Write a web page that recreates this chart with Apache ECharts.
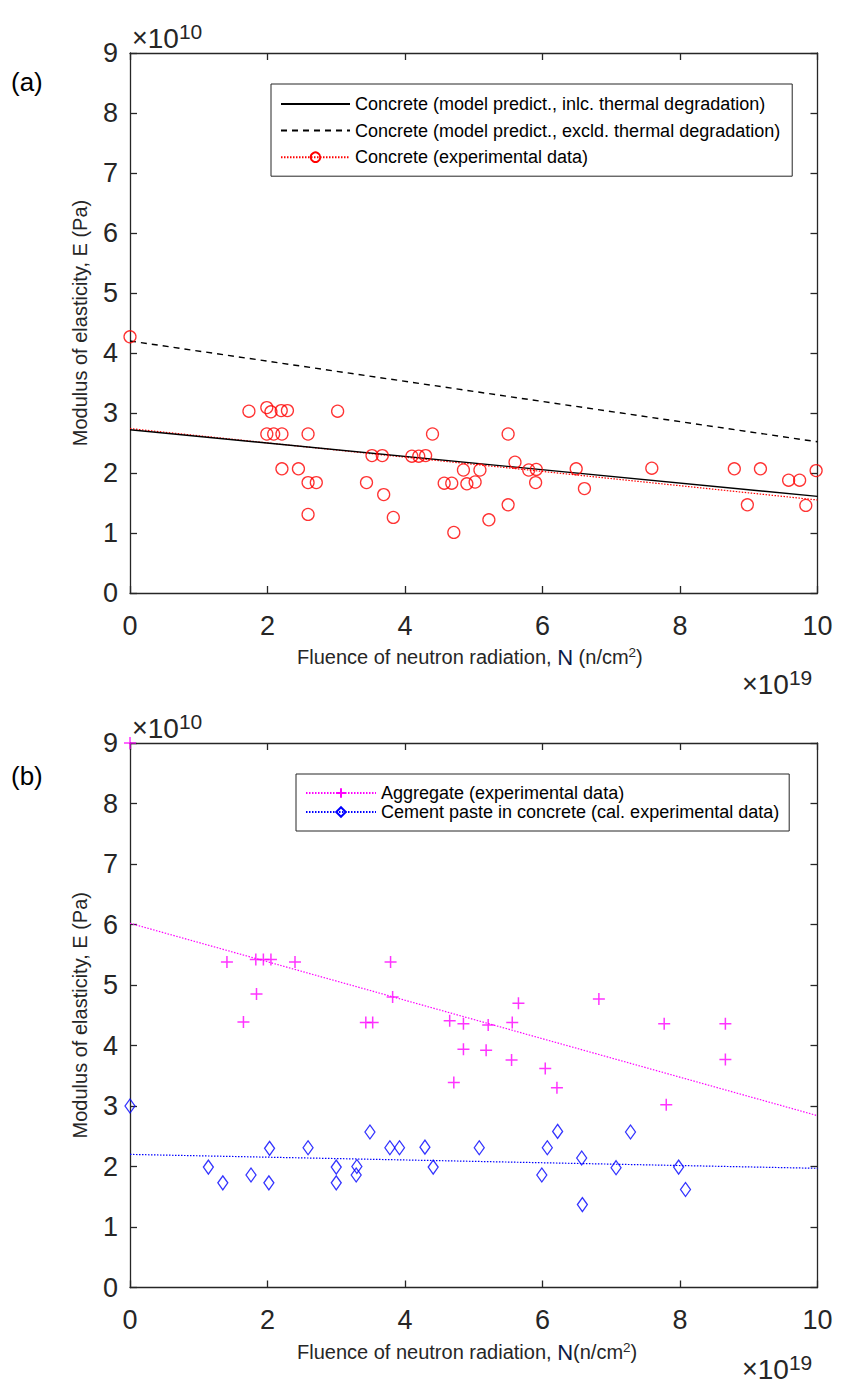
<!DOCTYPE html>
<html><head><meta charset="utf-8">
<script src="https://cdn.jsdelivr.net/npm/echarts@6/dist/echarts.min.js"></script>
<style>html,body{margin:0;padding:0;background:#fff}#c{width:841px;height:1383px}</style>
</head><body><div id="c"></div>
<script>
// ---------- DATA (x in 1e19 n/cm^2, y in 1e10 Pa) ----------
const xTicks = [0, 2, 4, 6, 8, 10];
const yTicks = [0, 1, 2, 3, 4, 5, 6, 7, 8, 9];
// Panel (a)
const concreteX = [0, 1.73, 1.99, 2.05, 2.20, 2.29, 1.99, 2.09, 2.21, 2.59, 3.02, 4.40, 3.52, 3.67, 4.10, 4.20, 4.30,
  2.21, 2.45, 2.59, 2.71, 3.44, 3.69, 2.59, 3.83, 4.71, 4.85, 4.57, 4.68, 4.90, 5.02, 5.09, 5.50, 5.60, 5.80, 5.91,
  5.90, 5.50, 5.22, 6.49, 6.61, 7.59, 8.79, 9.17, 8.98, 9.58, 9.74, 9.83, 9.98];
const concreteY = [4.27, 3.03, 3.09, 3.02, 3.04, 3.04, 2.65, 2.65, 2.65, 2.65, 3.03, 2.65, 2.29, 2.29, 2.28, 2.28, 2.29,
  2.07, 2.07, 1.84, 1.84, 1.84, 1.64, 1.31, 1.26, 1.01, 2.05, 1.83, 1.83, 1.82, 1.85, 2.05, 2.65, 2.18, 2.05, 2.06,
  1.84, 1.47, 1.22, 2.07, 1.74, 2.08, 2.07, 2.07, 1.47, 1.88, 1.88, 1.46, 2.04];
const modelX = [0, 10];
const modelInclY = [2.72, 1.61];
const modelExclY = [4.20, 2.52];
const concreteFitY = [2.74, 1.55];
// Panel (b)
const aggX = [0, 1.41, 1.83, 1.94, 2.05, 2.40, 3.79, 1.84, 3.82, 1.65, 3.43, 3.53, 4.65, 4.85, 5.21, 5.56, 5.65, 6.82,
  7.77, 8.66, 4.85, 4.71, 5.18, 5.55, 6.04, 6.21, 7.80, 8.66];
const aggY = [9.0, 5.38, 5.42, 5.42, 5.42, 5.38, 5.38, 4.85, 4.80, 4.39, 4.38, 4.38, 4.41, 4.36, 4.34, 4.38, 4.70, 4.77,
  4.36, 4.36, 3.94, 3.39, 3.92, 3.76, 3.62, 3.30, 3.02, 3.77];
const aggFitY = [6.02, 2.84];
const pasteX = [0, 1.14, 1.35, 1.76, 2.03, 2.02, 2.59, 3.00, 3.00, 3.30, 3.29, 3.49, 3.78, 3.92, 4.29, 4.41, 5.08,
  5.99, 6.07, 6.22, 6.57, 6.58, 7.07, 7.28, 7.98, 8.08];
const pasteY = [3.00, 1.99, 1.73, 1.86, 2.30, 1.73, 2.31, 1.99, 1.73, 2.00, 1.86, 2.57, 2.31, 2.31, 2.32, 1.99, 2.31,
  1.86, 2.31, 2.58, 2.14, 1.37, 1.98, 2.57, 1.99, 1.62];
const pasteFitY = [2.20, 1.97];

const names = {
  incl: 'Concrete (model predict., inlc. thermal degradation)',
  excl: 'Concrete (model predict., excld. thermal degradation)',
  conc: 'Concrete (experimental data)',
  agg: 'Aggregate (experimental data)',
  paste: 'Cement paste in concrete (cal. experimental data)'
};

// ---------- CHART ----------
const FONT = 'Liberation Sans, Arial, sans-serif';
const AX = '#262626';
const TICKFS = 27;
const zip = (xs, ys) => xs.map((x, i) => [x, ys[i]]);
const PLUS = 'path://M5,0L5,10M0,5L10,5';

function xAxes(g) {
  const base = {gridIndex: g, type: 'value', min: xTicks[0], max: xTicks[xTicks.length - 1], interval: 2,
    axisLine: {show: true, onZero: false, lineStyle: {color: AX, width: 1.3}},
    axisTick: {show: true, inside: true, length: 7, lineStyle: {color: AX, width: 1.3}},
    splitLine: {show: false}};
  return [
    Object.assign({}, base, {position: 'bottom',
      axisLabel: {show: true, margin: 19, fontSize: TICKFS, color: AX, fontFamily: FONT}}),
    Object.assign({}, base, {position: 'top', axisLabel: {show: false}})
  ];
}
function yAxes(g) {
  const base = {gridIndex: g, type: 'value', min: yTicks[0], max: yTicks[yTicks.length - 1], interval: 1,
    axisLine: {show: true, onZero: false, lineStyle: {color: AX, width: 1.3}},
    axisTick: {show: true, inside: true, length: 7, lineStyle: {color: AX, width: 1.3}},
    splitLine: {show: false}};
  return [
    Object.assign({}, base, {position: 'left',
      axisLabel: {show: true, margin: 12, fontSize: TICKFS, color: AX, fontFamily: FONT},
      name: 'Modulus of elasticity, E (Pa)', nameLocation: 'middle', nameGap: 40,
      nameTextStyle: {fontSize: 20, color: AX, fontFamily: FONT}}),
    Object.assign({}, base, {position: 'right', axisLabel: {show: false}})
  ];
}

const legendText = {fontSize: 18, color: '#000', fontFamily: FONT};
const noDot = {opacity: 0};
function sci(left, top, exp) {
  return {type: 'text', left: left, top: top, style: {text: '{x|×}{m|10}{s|' + exp + '}', fill: AX, fontFamily: FONT,
    rich: {x: {fontSize: 27, fill: AX, fontFamily: FONT}, m: {fontSize: 28, fill: AX, fontFamily: FONT},
      s: {fontSize: 21, fill: AX, fontFamily: FONT, verticalAlign: 'top', padding: [0, 0, 13, 0]}}}};
}
function xTitle(top, txt2) {
  return {type: 'text', left: 297, top: top,
    style: {text: '{t|Fluence of neutron radiation, }{n|N}{t|' + txt2 + '}{s|2}{t|)}', fill: AX, fontFamily: FONT,
      rich: {t: {fontSize: 20, fill: AX, fontFamily: FONT}, n: {fontSize: 22, fill: '#0b1a4a', fontFamily: FONT},
        s: {fontSize: 13.5, fill: AX, fontFamily: FONT, verticalAlign: 'top', padding: [0, 0, 10, 0]}}}};
}

const option = {
  backgroundColor: '#fff',
  animation: false,
  grid: [
    {left: 130, top: 53, width: 687.5, height: 540},
    {left: 130, top: 743, width: 687.5, height: 544.5}
  ],
  xAxis: [...xAxes(0), ...xAxes(1)],
  yAxis: [...yAxes(0), ...yAxes(1)],
  legend: [
    {data: [{name: names.incl, itemStyle: noDot}, {name: names.excl, itemStyle: noDot}, names.conc],
      orient: 'vertical', left: 271, top: 84,
      backgroundColor: '#fff', borderColor: AX, borderWidth: 1, padding: [11, 12, 10, 9],
      itemWidth: 69, itemHeight: 12, itemGap: 8.6, selectedMode: false, textStyle: legendText},
    {data: [names.agg, names.paste], orient: 'vertical', left: 296, top: 774,
      backgroundColor: '#fff', borderColor: AX, borderWidth: 1, padding: [10, 10, 10, 9],
      itemWidth: 70, itemHeight: 12, itemGap: 1, selectedMode: false, textStyle: legendText}
  ],
  series: [
    {name: names.incl, type: 'line', xAxisIndex: 0, yAxisIndex: 0, data: zip(modelX, modelInclY),
      symbol: 'none', lineStyle: {color: '#000', width: 1.4, type: 'solid'}, itemStyle: {color: '#000'}, z: 3},
    {name: names.excl, type: 'line', xAxisIndex: 0, yAxisIndex: 0, data: zip(modelX, modelExclY),
      symbol: 'none', lineStyle: {color: '#000', width: 1.4, type: [6, 5]}, itemStyle: {color: '#000'}, z: 3},
    {name: names.conc, type: 'line', xAxisIndex: 0, yAxisIndex: 0, data: zip(modelX, concreteFitY),
      symbol: 'circle', symbolSize: 11, showSymbol: false,
      lineStyle: {color: '#ff0000', width: 1.2, type: [1.5, 1.5]},
      itemStyle: {color: 'transparent', borderColor: '#ff0000', borderWidth: 1.3}, z: 2},
    {name: names.conc, type: 'scatter', xAxisIndex: 0, yAxisIndex: 0, data: zip(concreteX, concreteY),
      symbol: 'circle', symbolSize: 12,
      itemStyle: {color: 'transparent', borderColor: '#ff0000', borderWidth: 1.3}, z: 4},

    {name: names.agg, type: 'line', xAxisIndex: 2, yAxisIndex: 2, data: zip(modelX, aggFitY),
      symbol: PLUS, symbolSize: 11, showSymbol: false,
      lineStyle: {color: '#ff00ff', width: 1.2, type: [1.5, 1.5]},
      itemStyle: {color: 'none', borderColor: '#ff00ff', borderWidth: 1.5}, z: 2},
    {name: names.agg, type: 'scatter', xAxisIndex: 2, yAxisIndex: 2, data: zip(aggX, aggY),
      symbol: PLUS, symbolSize: 12,
      itemStyle: {color: 'none', borderColor: '#ff00ff', borderWidth: 1.5}, z: 4},
    {name: names.paste, type: 'line', xAxisIndex: 2, yAxisIndex: 2, data: zip(modelX, pasteFitY),
      symbol: 'diamond', symbolSize: [9, 13], showSymbol: false,
      lineStyle: {color: '#0000ff', width: 1.2, type: [1.5, 1.5]},
      itemStyle: {color: 'transparent', borderColor: '#0000ff', borderWidth: 1.3}, z: 2},
    {name: names.paste, type: 'scatter', xAxisIndex: 2, yAxisIndex: 2, data: zip(pasteX, pasteY),
      symbol: 'diamond', symbolSize: [10, 14],
      itemStyle: {color: 'transparent', borderColor: '#0000ff', borderWidth: 1.3}, z: 4}
  ],
  graphic: [
    {type: 'text', left: 11, top: 69, style: {text: '(a)', fontSize: 26, fontFamily: FONT, fill: '#000'}},
    {type: 'text', left: 11, top: 763, style: {text: '(b)', fontSize: 26, fontFamily: FONT, fill: '#000'}},
    sci(132, 21, '10'),
    sci(132, 711, '10'),
    sci(742, 667, '19'),
    sci(742, 1352, '19'),
    xTitle(645, ' (n/cm'),
    xTitle(1340, '(n/cm')
  ]
};
const chart = echarts.init(document.getElementById('c'), null, {renderer: 'svg', width: 841, height: 1383});
chart.setOption(option);
</script>
</body></html>
